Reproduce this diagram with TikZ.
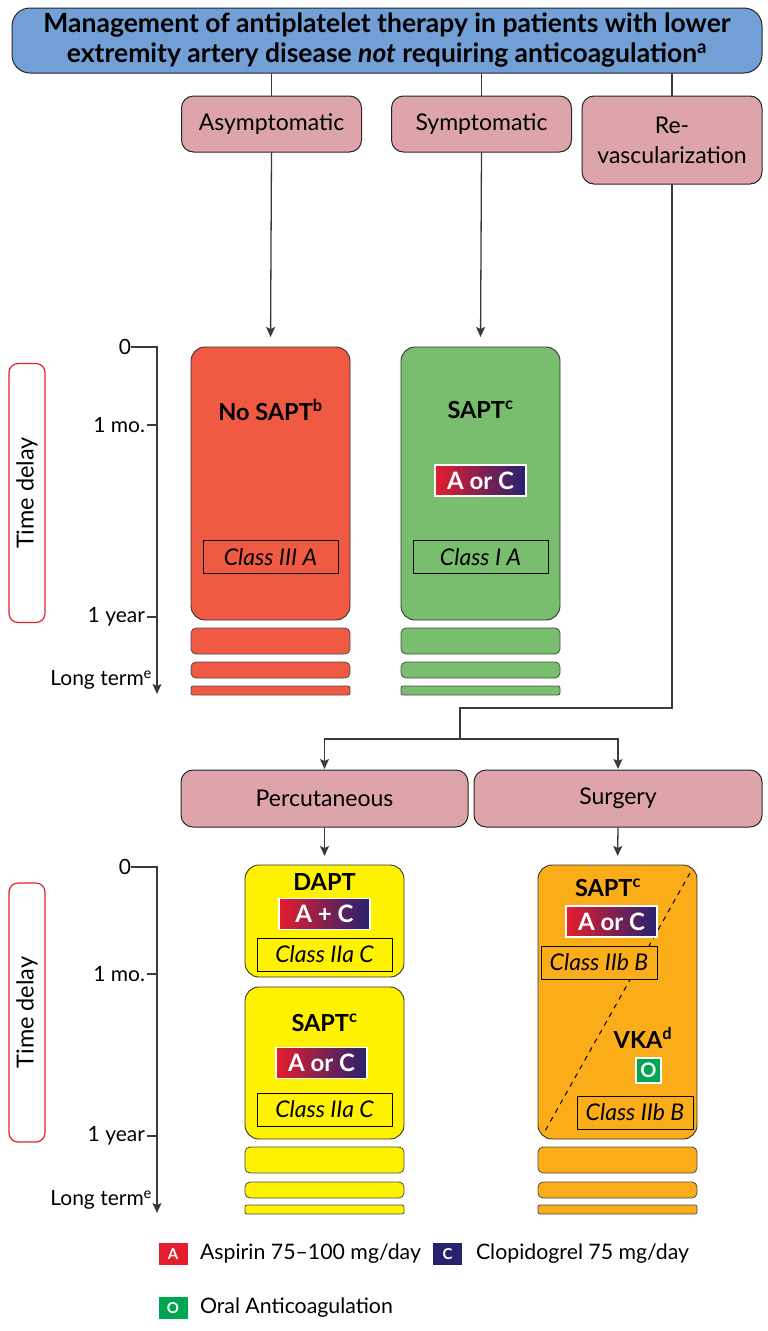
\documentclass[tikz,border=0pt]{standalone}
\usepackage{fontspec}
\setmainfont{Lato}
\usetikzlibrary{arrows.meta}
\definecolor{titleblue}{HTML}{729FD5}
\definecolor{catpink}{HTML}{DDA5A9}
\definecolor{nored}{HTML}{F05A42}
\definecolor{sgreen}{HTML}{79BD6F}
\definecolor{pyellow}{HTML}{FFF200}
\definecolor{sorange}{HTML}{FBAD19}
\definecolor{tdred}{HTML}{E0242B}
\definecolor{gred}{HTML}{E41E2E}
\definecolor{gnavy}{HTML}{262270}
\definecolor{ogreen}{HTML}{00A551}
\definecolor{lineg}{HTML}{3A3A3A}
\begin{document}
\begin{tikzpicture}[x=1pt,y=-1pt,
  every node/.style={inner sep=0pt, outer sep=0pt},
  conn/.style={draw=lineg, line width=1.3pt},
  arr/.style={conn, -{Stealth[length=10pt,width=9pt,inset=2pt]}},
  titlebox/.style={draw=black!85, line width=1pt, fill=titleblue, rounded corners=18pt,
     minimum width=750, minimum height=65, align=center,
     font=\fontsize{26.5}{30}\selectfont\bfseries},
  catbox/.style={draw=black!85, line width=1pt, fill=catpink, rounded corners=12pt,
     minimum width=180, align=center, font=\fontsize{23}{30}\selectfont},
  bigbox/.style={draw=black!80, line width=0.9pt, rounded corners=14pt, minimum width=159},
  strip/.style={draw=black!70, line width=0.8pt, rounded corners=5pt},
  classbox/.style={draw=black, line width=1pt, minimum height=33,
     font=\fontsize{23}{26}\selectfont\itshape},
  gradbox/.style={left color=gred, right color=gnavy, draw=white, line width=1.4pt,
     minimum width=91, minimum height=31, text=white, font=\fontsize{24}{26}\selectfont\bfseries},
  head/.style={font=\fontsize{23.5}{26}\selectfont\bfseries},
  tdbox/.style={draw=tdred, line width=1.2pt, rounded corners=9pt, rotate=90,
     minimum width=259, minimum height=36, font=\fontsize{23.5}{26}\selectfont},
  tick/.style={anchor=east, font=\fontsize{21}{24}\selectfont},
  legsq/.style={minimum width=29, minimum height=22, text=white, font=\fontsize{15}{18}\selectfont\bfseries},
  legtxt/.style={anchor=west, font=\fontsize{21.3}{24}\selectfont}
]
\useasboundingbox (0,0) rectangle (768,1331);

% title
\node[titlebox] (title) at (387,40.5) {Management of antiplatelet therapy in patients with lower\\extremity artery disease \textit{not} requiring anticoagulation\textsuperscript{a}};

% categories
\node[catbox, minimum height=56] (asym) at (271.5,124) {Asymptomatic};
\node[catbox, minimum height=56] (symp) at (481.5,124) {Symptomatic};
\node[catbox, minimum height=88] (revasc) at (672,140) {Re-\\vascularization};
\draw[conn] (title.south -| asym) -- (asym.north);
\draw[conn] (title.south -| symp) -- (symp.north);
\draw[conn] (title.south -| revasc) -- (revasc.north);

% top row big boxes
\node[bigbox, fill=nored, minimum height=273] (nosapt) at (270.5,483.5) {};
\node[head] (nosaptt) at (270.5,410) {No SAPT\textsuperscript{b}};
\node[classbox, minimum width=135] (c1) at (270.5,557) {Class III A};
\draw[strip, fill=nored] (191,628) rectangle (350,654);
\draw[strip, fill=nored] (191,662) rectangle (350,678);
\draw[strip, fill=nored, rounded corners=2pt] (191,686) rectangle (350,695);

\node[bigbox, fill=sgreen, minimum height=273] (sapt) at (480.5,483.5) {};
\node[head] (saptt) at (480.5,410) {SAPT\textsuperscript{c}};
\node[gradbox] (g1) at (480.5,480.5) {A or C};
\node[classbox, minimum width=135] (c2) at (480.5,557) {Class I A};
\draw[strip, fill=sgreen] (401,628) rectangle (560,654);
\draw[strip, fill=sgreen] (401,662) rectangle (560,678);
\draw[strip, fill=sgreen, rounded corners=2pt] (401,686) rectangle (560,695);

\draw[arr, shorten >=10pt] (asym.south) -- (nosapt.north);
\draw[arr, shorten >=10pt] (symp.south) -- (sapt.north);

% time axis 1
\node[tick] (a0) at (131,347) {0};
\coordinate (a0r) at (157,347);
\coordinate (aend) at (157,694);
\draw[arr] (a0.east) -- (a0r) -- (aend);
\draw[conn] (147,425) -- (157,425);
\draw[conn] (147,617) -- (157,617);
\node[tick] (amo) at (145,425) {1 mo.};
\node[tick] (ay) at (145,617) {1 year};
\node[tick] (alt) at (152,680) {Long term\textsuperscript{e}};
\node[tdbox] (td1) at (27,493) {Time delay};

% revascularization branches
\node[catbox, minimum width=287, minimum height=57] (perc) at (324.5,798.5) {Percutaneous};
\node[catbox, minimum width=288, minimum height=57] (surg) at (618,798.5) {Surgery};
\coordinate (bend) at (672,708);
\coordinate (split) at (460,739);
\draw[conn] (revasc.south) -- (bend) -| (split);
\draw[arr, shorten >=1pt] (split) -| (perc.north);
\draw[arr, shorten >=1pt] (split) -| (surg.north);

% yellow boxes
\node[bigbox, fill=pyellow, minimum height=112] (dapt) at (324.5,921) {};
\node[head] (daptt) at (324.5,882) {DAPT};
\node[gradbox] (g2) at (324.5,914) {A + C};
\node[classbox, minimum width=135] (c3) at (324.5,954.5) {Class IIa C};
\node[bigbox, fill=pyellow, minimum height=152] (sapt2) at (324.5,1063) {};
\node[head] (sapt2t) at (324.5,1023) {SAPT\textsuperscript{c}};
\node[gradbox] (g3) at (321.5,1063) {A or C};
\node[classbox, minimum width=135] (c4) at (324.5,1109.5) {Class IIa C};
\draw[strip, fill=pyellow] (245,1147) rectangle (404,1173);
\draw[strip, fill=pyellow] (245,1182) rectangle (404,1198);
\draw[strip, fill=pyellow, rounded corners=2pt] (245,1205) rectangle (404,1214);

% orange box
\node[bigbox, fill=sorange, minimum height=274] (orb) at (617.5,1002) {};
\coordinate (dashA) at (690,873);
\coordinate (dashB) at (545,1131);
\draw[black, line width=1pt, dash pattern=on 5pt off 5pt] (dashA) -- (dashB);
\node[head] (sapt3t) at (608,888) {SAPT\textsuperscript{c}};
\node[gradbox] (g4) at (611.5,921.5) {A or C};
\node[classbox, minimum width=116, fill=sorange] (c5) at (599,962.5) {Class IIb B};
\node[head] (vka) at (643,1038) {VKA\textsuperscript{d}};
\node[draw=white, line width=1.4pt, fill=ogreen, minimum width=25, minimum height=25, text=white, font=\fontsize{20}{24}\selectfont\bfseries] (ob) at (648.5,1070.5) {O};
\node[classbox, minimum width=116, fill=sorange] (c6) at (635,1112.5) {Class IIb B};
\draw[strip, fill=sorange] (538,1147) rectangle (697,1173);
\draw[strip, fill=sorange] (538,1182) rectangle (697,1198);
\draw[strip, fill=sorange, rounded corners=2pt] (538,1205) rectangle (697,1214);

\draw[arr, shorten >=9pt] (perc.south) -- (dapt.north);
\draw[arr, shorten >=9pt] (surg.south) -- (orb.north);

% time axis 2
\node[tick] (b0) at (131,867) {0};
\coordinate (b0r) at (157,867);
\coordinate (bend2) at (157,1213);
\draw[arr] (b0.east) -- (b0r) -- (bend2);
\draw[conn] (147,974) -- (157,974);
\draw[conn] (147,1136) -- (157,1136);
\node[tick] (bmo) at (145,974) {1 mo.};
\node[tick] (by) at (145,1136) {1 year};
\node[tick] (blt) at (152,1200) {Long term\textsuperscript{e}};
\node[tdbox] (td2) at (27,1012.5) {Time delay};

% legend
\node[legsq, fill=gred] (la) at (173,1254) {A};
\node[legtxt] (lat) at (200,1254) {Aspirin 75--100 mg/day};
\node[legsq, fill=gnavy] (lc) at (447.5,1254) {C};
\node[legtxt] (lct) at (476,1254) {Clopidogrel 75 mg/day};
\node[legsq, fill=ogreen] (lo) at (173,1308) {O};
\node[legtxt] (lot) at (200,1308) {Oral Anticoagulation};
\end{tikzpicture}
\end{document}
